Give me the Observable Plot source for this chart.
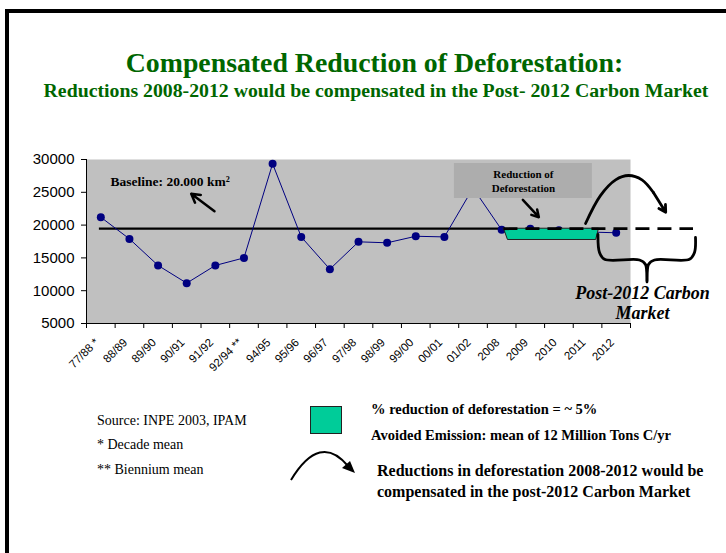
<!DOCTYPE html>
<html>
<head>
<meta charset="utf-8">
<script src="https://cdn.jsdelivr.net/npm/d3@7"></script>
<script src="https://cdn.jsdelivr.net/npm/@observablehq/plot@0.6"></script>
<style>
  html, body { margin: 0; padding: 0; background: #fff; }
  #page { position: relative; width: 726px; height: 553px; overflow: hidden; background: #fff; }
  #frame { position: absolute; left: 5px; top: 9px; width: 760px; height: 541px;
           border-left: 4px solid #000; border-top: 4px solid #000; border-bottom: 2px solid #808080; }
  .t { position: absolute; white-space: nowrap; font-family: "Liberation Serif", "Times New Roman", serif; color: #000; }
  #title { left: 0; width: 749px; text-align: center; top: 47px; font-size: 27.8px; font-weight: bold; color: #006600; }
  #subtitle { left: 0; width: 752px; text-align: center; top: 79px; font-size: 19.8px; font-weight: bold; color: #006600; }
  #chart { position: absolute; left: 0; top: 130px; }
  #swatch { position: absolute; left: 310px; top: 406px; width: 30px; height: 26px; background: #00CC99; border: 1px solid #222; }
</style>
</head>
<body>
<div id="page">
  <div id="frame"></div>
  <div id="title" class="t">Compensated Reduction of Deforestation:</div>
  <div id="subtitle" class="t">Reductions 2008-2012 would be compensated in the Post- 2012 Carbon Market</div>
  <div id="chart"></div>
  <div class="t" style="left:97px; top:413px; font-size:14px;">Source: INPE 2003, IPAM</div>
  <div class="t" style="left:97px; top:437px; font-size:14px;">* Decade mean</div>
  <div class="t" style="left:97px; top:462px; font-size:14px;">** Biennium mean</div>
  <div id="swatch"></div>
  <div class="t" style="left:371px; top:401px; font-size:14.5px; font-weight:bold;">% reduction of deforestation = ~ 5%</div>
  <div class="t" style="left:371px; top:427px; font-size:14.5px; font-weight:bold;">Avoided Emission: mean of 12 Million Tons C/yr</div>
  <div class="t" style="left:377px; top:460px; font-size:16px; font-weight:bold; line-height:21px;">Reductions in deforestation 2008-2012 would be<br>compensated in the post-2012 Carbon Market</div>
  <svg style="position:absolute; left:280px; top:440px;" width="90" height="50">
    <path d="M11,40 Q40,-8 68,26" fill="none" stroke="#000" stroke-width="2"/>
    <polygon points="75,33 62,28 70,21" fill="#000"/>
  </svg>
</div>
<script>
// ---- data ----
const categories = ["77/88 *", "88/89", "89/90", "90/91", "91/92", "92/94 **", "94/95", "95/96", "96/97",
  "97/98", "98/99", "99/00", "00/01", "01/02", "2008", "2009", "2010", "2011", "2012"];
const deforestation = [21200, 17900, 13850, 11150, 13850, 15000, 29350, 18200, 13280, 17450, 17300,
  18300, 18200, 25650, 19280, 19440, 19200, 18950, 18830];
const yTicks = [5000, 10000, 15000, 20000, 25000, 30000];
const baseline = 19450;
const reducedLevel = 17730;

// ---- annotation geometry (data units: x = category index, y = km²) ----
const greenArea = [
  {x: 14.58, lo: baseline, hi: baseline},
  {x: 14.72, lo: reducedLevel, hi: baseline},
  {x: 17.80, lo: reducedLevel, hi: baseline},
  {x: 17.90, lo: baseline, hi: baseline}
];
const brace = [
  {x: 17.864, y: 18567}, {x: 17.917, y: 15823}, {x: 18.092, y: 14787}, {x: 19.314, y: 14680},
  {x: 19.524, y: 13994}, {x: 19.576, y: 11326}, {x: 19.628, y: 13994}, {x: 19.838, y: 14680},
  {x: 21.06, y: 14787}, {x: 21.235, y: 15823}, {x: 21.27, y: 18110}
];
const bigArc = [
  {x: 17.43, y: 20240}, {x: 17.95, y: 24500}, {x: 18.48, y: 26900}, {x: 18.93, y: 27560},
  {x: 19.40, y: 26900}, {x: 19.80, y: 24970}
];

const serif = "Liberation Serif, Times New Roman, serif";
const pts = deforestation.map((v, i) => ({x: i + 0.5, y: v}));

const chart = Plot.plot({
  width: 726,
  height: 260,
  marginLeft: 86,
  marginRight: 96,
  marginTop: 29,
  marginBottom: 67,
  x: {domain: [0, 19], axis: null},
  y: {domain: [5000, 30000], axis: null},
  style: {fontFamily: "Liberation Sans, Arial, sans-serif", background: "transparent", overflow: "visible", color: "#000"},
  marks: [
    Plot.frame({fill: "#C0C0C0", stroke: "none"}),
    Plot.axisY({ticks: yTicks, tickSize: 5, tickPadding: 7, fontSize: 15, tickFormat: d3.format("d"), label: null}),
    Plot.axisX({ticks: d3.range(20), tickSize: 5, tickFormat: () => "", label: null}),
    Plot.ruleX([0], {y1: 5000, y2: 30000, stroke: "#000"}),
    Plot.ruleY([5000], {x1: 0, x2: 19, stroke: "#000"}),
    Plot.text(categories, {x: (d, i) => i + 0.5, y: 5000, text: d => d, rotate: -45, textAnchor: "end",
      dx: -4, dy: 17, fontSize: 11.5}),
    Plot.ruleY([baseline], {x1: 0.45, x2: 14.58, stroke: "#000", strokeWidth: 2.2}),
    Plot.line(pts, {x: "x", y: "y", stroke: "#000080", strokeWidth: 1}),
    Plot.dot(pts, {x: "x", y: "y", r: 4, fill: "#000080", stroke: "none"}),
    Plot.areaY(greenArea, {x: "x", y1: "lo", y2: "hi", fill: "#00CC99", stroke: "#222", strokeWidth: 1}),
    Plot.ruleY([baseline], {x1: 14.58, x2: 21.2, stroke: "#000", strokeWidth: 2.8, strokeDasharray: "14,8"}),
    Plot.rect([0], {x1: 12.85, x2: 17.67, y1: 24055, y2: 29390, fill: "#ADADAD"}),
    Plot.text(["Reduction of\nDeforestation"], {x: 15.26, y: 26750, fontFamily: serif, fontWeight: "bold",
      fontSize: 11, lineHeight: 1.27, fill: "#000"}),
    Plot.arrow([0], {x1: 15.24, y1: 23857, x2: 15.80, y2: 21204, stroke: "#000", strokeWidth: 2.5, headLength: 9}),
    Plot.text(["Baseline: 20.000 km²"], {x: 0.84, y: 26650, textAnchor: "start", fontFamily: serif,
      fontWeight: "bold", fontSize: 13.5, fill: "#000"}),
    Plot.arrow([0], {x1: 4.47, y1: 22120, x2: 3.657, y2: 24770, stroke: "#000", strokeWidth: 2.5, headLength: 9}),
    Plot.line(bigArc, {x: "x", y: "y", curve: "catmull-rom", stroke: "#000", strokeWidth: 2.8}),
    Plot.arrow([0], {x1: 19.80, y1: 24970, x2: 20.23, y2: 21966, stroke: "#000", strokeWidth: 2.8, headLength: 11}),
    Plot.line(brace, {x: "x", y: "y", curve: "catmull-rom", stroke: "#000", strokeWidth: 2.8}),
    Plot.text(["Post-2012 Carbon\nMarket"], {x: 19.42, y: 8200, fontFamily: serif, fontWeight: "bold",
      fontStyle: "italic", fontSize: 18, lineHeight: 1.12, fill: "#000"})
  ]
});
document.getElementById("chart").appendChild(chart);
</script>
</body>
</html>
